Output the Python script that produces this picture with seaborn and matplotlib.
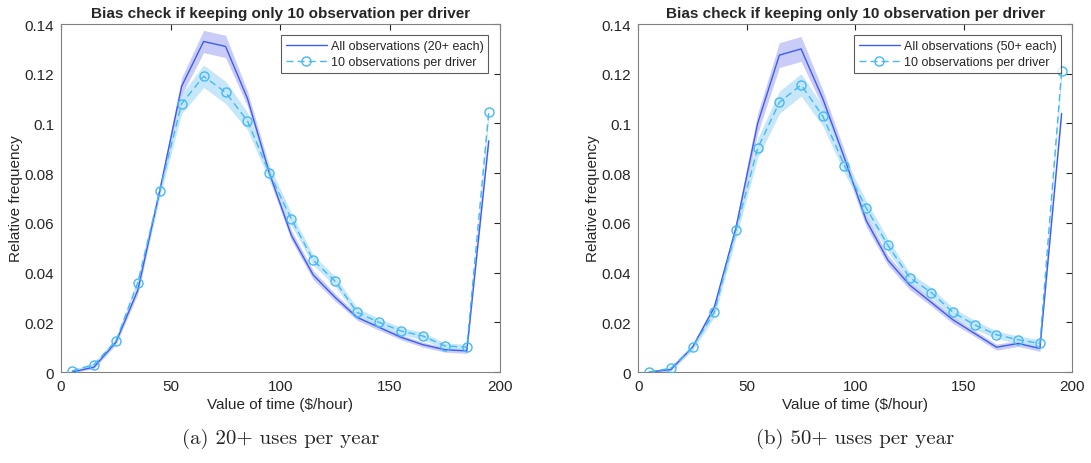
import pandas as pd
import matplotlib
matplotlib.use("Agg")
import matplotlib.pyplot as plt
import seaborn as sns

# value of time bins ($/hour)
vot = [5, 15, 25, 35, 45, 55, 65, 75, 85, 95, 105, 115, 125, 135, 145, 155, 165, 175, 185, 195]

# (a) 20+ uses per year
all20 = [0.0, 0.002, 0.012, 0.033, 0.073, 0.115, 0.133, 0.131, 0.110, 0.080,
         0.055, 0.039, 0.030, 0.022, 0.018, 0.014, 0.011, 0.009, 0.0085, 0.093]
all20_err = [0.0003, 0.0006, 0.001, 0.0015, 0.002, 0.0035, 0.0045, 0.0045, 0.003, 0.0025,
             0.002, 0.0018, 0.0015, 0.0012, 0.0012, 0.001, 0.001, 0.001, 0.001, 0.002]
ten20 = [0.0005, 0.003, 0.0125, 0.036, 0.073, 0.108, 0.119, 0.1125, 0.101, 0.080,
         0.0615, 0.045, 0.0365, 0.024, 0.020, 0.0165, 0.0145, 0.0105, 0.010, 0.1045]
ten20_err = [0.0003, 0.0008, 0.0012, 0.002, 0.0025, 0.004, 0.0045, 0.0045, 0.0035, 0.003,
             0.0025, 0.002, 0.002, 0.0018, 0.0015, 0.0015, 0.0015, 0.0012, 0.0012, 0.003]

# (b) 50+ uses per year
all50 = [0.0, 0.001, 0.010, 0.026, 0.058, 0.100, 0.1275, 0.130, 0.110, 0.086,
         0.061, 0.045, 0.035, 0.028, 0.021, 0.0155, 0.010, 0.0115, 0.0095, 0.104]
all50_err = [0.0003, 0.0006, 0.001, 0.0015, 0.0025, 0.004, 0.005, 0.005, 0.0035, 0.003,
             0.0025, 0.002, 0.0018, 0.0015, 0.0015, 0.0012, 0.0012, 0.0012, 0.0012, 0.002]
ten50 = [0.0, 0.0015, 0.010, 0.024, 0.057, 0.090, 0.1085, 0.1155, 0.103, 0.083,
         0.066, 0.051, 0.038, 0.032, 0.024, 0.019, 0.015, 0.013, 0.0115, 0.121]
ten50_err = [0.0003, 0.0008, 0.0012, 0.002, 0.003, 0.004, 0.0045, 0.0045, 0.004, 0.003,
             0.003, 0.0025, 0.002, 0.002, 0.0018, 0.0018, 0.0015, 0.0015, 0.0015, 0.003]

yticks = [0, 0.02, 0.04, 0.06, 0.08, 0.1, 0.12, 0.14]
ytick_labels = ["0", "0.02", "0.04", "0.06", "0.08", "0.1", "0.12", "0.14"]
xticks = [0, 50, 100, 150, 200]

panels = [
    ("All observations (20+ each)", all20, all20_err, ten20, ten20_err, "(a) 20+ uses per year"),
    ("All observations (50+ each)", all50, all50_err, ten50, ten50_err, "(b) 50+ uses per year"),
]

sns.set_style("white")
plt.rcParams["font.family"] = ["Liberation Sans", "DejaVu Sans"]

solid_col = "#3D5CF0"
solid_band = "#C9CCF7"
dash_col = "#45B8F5"
dash_band = "#BCE3F8"
axis_col = "#262626"

fig = plt.figure(figsize=(10.91, 4.64), dpi=100)
ax_pos = [[0.056, 0.196, 0.402, 0.75], [0.585, 0.196, 0.398, 0.75]]

for pos, (lab, a, ae, t, te, caption) in zip(ax_pos, panels):
    ax = fig.add_axes(pos)
    df = pd.DataFrame({"vot": vot, "all": a, "ten": t})
    lo_a = [v - e for v, e in zip(a, ae)]
    hi_a = [v + e for v, e in zip(a, ae)]
    lo_t = [v - e for v, e in zip(t, te)]
    hi_t = [v + e for v, e in zip(t, te)]
    ax.fill_between(vot, lo_a, hi_a, color=solid_band, lw=0, zorder=1)
    ax.fill_between(vot, lo_t, hi_t, color=dash_band, lw=0, alpha=0.85, zorder=1)
    sns.lineplot(data=df, x="vot", y="all", ax=ax, color=solid_col, lw=1.0,
                 label=lab, zorder=3)
    sns.lineplot(data=df, x="vot", y="ten", ax=ax, color=dash_col, lw=1.0,
                 linestyle=(0, (5, 3)), marker="o", markersize=6.5,
                 markerfacecolor="none", markeredgecolor=dash_col, markeredgewidth=1.0,
                 label="10 observations per driver", zorder=4)

    ax.set_xlim(0, 200)
    ax.set_ylim(0, 0.14)
    ax.set_xticks(xticks)
    ax.set_yticks(yticks)
    ax.set_yticklabels(ytick_labels)
    ax.tick_params(direction="in", length=4, width=0.8, colors=axis_col,
                   labelsize=11, top=True, right=True, pad=5)
    for sp in ax.spines.values():
        sp.set_color("#808080")
        sp.set_linewidth(0.8)
    ax.set_xlabel("Value of time (\\$/hour)", fontsize=11, color=axis_col, labelpad=3)
    ax.set_ylabel("Relative frequency", fontsize=11, color=axis_col, labelpad=1)
    ax.set_title("Bias check if keeping only 10 observation per driver",
                 fontsize=11, fontweight="bold", pad=5)
    leg = ax.legend(loc="upper right", fontsize=9, frameon=True, fancybox=False,
                    handlelength=3.3, borderpad=0.4, labelspacing=0.3,
                    handletextpad=0.3, borderaxespad=0.9)
    leg.get_frame().set_edgecolor("#333333")
    leg.get_frame().set_linewidth(0.8)

    fig.text(pos[0] + pos[2] / 2, 0.055, caption, ha="center", va="center",
             fontsize=15, family=["cmr10", "Liberation Serif"])

fig.savefig("out.png", dpi=100)
